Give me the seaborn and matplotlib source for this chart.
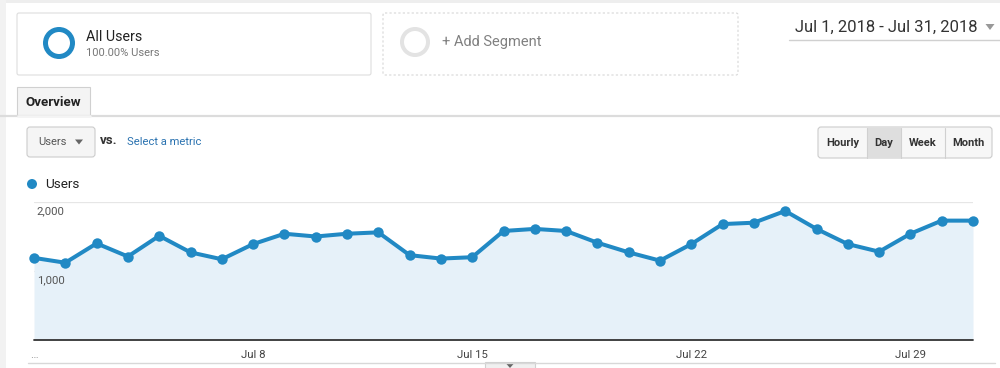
import matplotlib
matplotlib.use("Agg")
import matplotlib.pyplot as plt
import matplotlib.patches as mpatches
import matplotlib.transforms as mtransforms
import pandas as pd
import seaborn as sns

# data (daily users, July 2018)
days = list(range(1, 32))
users = [1190, 1120, 1400, 1210, 1510, 1270, 1170, 1390, 1540, 1500,
         1540, 1560, 1230, 1180, 1200, 1580, 1610, 1580, 1410, 1270,
         1150, 1390, 1680, 1700, 1870, 1610, 1390, 1280, 1540, 1730, 1730]
tick_days = [1, 8, 15, 22, 29]
tick_labels = ["\u2026", "Jul 8", "Jul 15", "Jul 22", "Jul 29"]
y_ticks = [1000, 2000]
y_labels = ["1,000", "2,000"]
intervals = ["Hourly", "Day", "Week", "Month"]
date_range = "Jul 1, 2018 - Jul 31, 2018"

LINE = "#2189c4"
FILL = "#e6f1f9"

sns.set_theme(style="white")
plt.rcParams["font.family"] = ["Roboto", "DejaVu Sans"]

W, H = 1000, 368
fig = plt.figure(figsize=(W / 100, H / 100), dpi=100)

# overlay in pixel coordinates for the UI chrome
ui = fig.add_axes([0, 0, 1, 1], zorder=0)
ui.set_xlim(0, W)
ui.set_ylim(H, 0)
ui.axis("off")


def box(x0, y0, x1, y1, fc="white", ec="#dddddd", ls="-", lw=0.8, r=2):
    p = mpatches.FancyBboxPatch((x0, y0), x1 - x0, y1 - y0,
                                boxstyle=f"round,pad=0,rounding_size={r}",
                                fc=fc, ec=ec, ls=ls, lw=lw)
    ui.add_patch(p)


def tri(x, y, w=8, h=5, color="#777777"):
    ui.add_patch(mpatches.Polygon([(x - w / 2, y - h / 2), (x + w / 2, y - h / 2), (x, y + h / 2)],
                                  closed=True, fc=color, ec="none"))


# page frame strips
ui.add_patch(mpatches.Rectangle((0, 0), W, 3, fc="#eeeeee", ec="none"))
ui.add_patch(mpatches.Rectangle((0, 0), 6, H, fc="#f2f2f2", ec="none"))

# segment boxes
box(17, 13, 371, 75)
ui.add_patch(mpatches.Wedge((59, 43), 16, 0, 360, width=5, fc=LINE, ec="none"))
ui.text(86, 37, "All Users", fontsize=10.3, color="#222222", va="center", ha="left")
ui.text(86, 53, "100.00% Users", fontsize=8, color="#777777", va="center", ha="left")

box(383, 13, 738, 75, ec="#d6d6d6", ls=(0, (2, 2)))
ui.add_patch(mpatches.Wedge((415, 42), 15, 0, 360, width=4, fc="#e3e3e3", ec="none"))
ui.text(442, 42, "+ Add Segment", fontsize=10.5, color="#808080", va="center", ha="left")

# date range picker
ui.text(795, 27, date_range, fontsize=12, color="#333333", va="center", ha="left")
tri(990, 27, w=9, h=6, color="#999999")
ui.plot([789, 1000], [39.5, 39.5], color="#d0d0d0", lw=1)

# tab bar
ui.plot([0, W], [116, 116], color="#dcdcdc", lw=1.6)
ui.add_patch(mpatches.Rectangle((17, 87), 73, 29, fc="#f4f4f4", ec="#d0d0d0", lw=0.8))
ui.plot([17.5, 89.5], [116, 116], color="#f4f4f4", lw=1.8)
ui.text(53.5, 102, "Overview", fontsize=9.6, color="#222222", fontweight="bold", va="center", ha="center")

# metric selector
box(27, 127, 95, 157, fc="#f5f5f5", ec="#cccccc", r=3)
ui.text(38, 142, "Users", fontsize=8, color="#555555", va="center", ha="left")
tri(79, 142, w=8, h=5, color="#666666")
ui.text(99.5, 141, "vs.", fontsize=9.5, color="#333333", fontweight="bold", va="center", ha="left")
ui.text(127, 142, "Select a metric", fontsize=8.1, color="#2a72b0", va="center", ha="left")

# interval buttons
edges = [818, 867, 901, 945, 992]
box(edges[0], 127, edges[-1], 158, fc="#f7f7f7", ec="#cccccc", r=3)
for i, name in enumerate(intervals):
    x0, x1 = edges[i], edges[i + 1]
    if name == "Day":
        ui.add_patch(mpatches.Rectangle((x0, 127.5), x1 - x0, 30, fc="#dedede", ec="none"))
    if i > 0:
        ui.plot([x0, x0], [127.5, 157.5], color="#d0d0d0", lw=0.8)
    ui.text((x0 + x1) / 2, 142.5, name, fontsize=8, color="#333333", fontweight="bold",
            va="center", ha="center")

# legend
ui.add_patch(mpatches.Circle((32, 184), 5, fc=LINE, ec="none"))
ui.text(45, 184, "Users", fontsize=9.7, color="#222222", va="center", ha="left")

# bottom strip with the collapse tab
ui.plot([28, 995], [363, 363], color="#d8d8d8", lw=1)
ui.add_patch(mpatches.Rectangle((485, 362), 50, 8, fc="#f0f0f0", ec="#d0d0d0", lw=0.8))
tri(510, 366, w=7, h=4, color="#666666")

# chart
df = pd.DataFrame({"day": days, "users": users})
ax = fig.add_axes([34 / W, 1 - 340 / H, 939 / W, 138 / H], zorder=1)
ax.patch.set_alpha(0)
ax.fill_between(df["day"], 0, df["users"], color=FILL, lw=0, zorder=1)
for yv in y_ticks:
    ax.axhline(yv, color="#e6e6e6", lw=0.9, zorder=0)
sns.lineplot(data=df, x="day", y="users", ax=ax, color=LINE, lw=2.9,
             marker="o", markersize=7.5, markeredgewidth=0, clip_on=False, zorder=3)
ax.axhline(0, color="#333333", lw=1.3, zorder=4, clip_on=False)
ax.set_xlim(1, 31)
ax.set_ylim(0, 2000)
for s in ax.spines.values():
    s.set_visible(False)
ax.set_xlabel("")
ax.set_ylabel("")
ax.set_yticks([])
ax.set_xticks(tick_days)
ax.set_xticklabels(tick_labels, fontsize=8.2, color="#444444")
ax.get_xticklabels()[0].set_color("#888888")
ax.tick_params(axis="x", length=0, pad=7)

trans = mtransforms.blended_transform_factory(ax.transAxes, ax.transData)
for yv, lab in zip(y_ticks, y_labels):
    ax.text(0.003, yv - 55, lab, transform=trans, fontsize=8.2, color="#555555",
            va="top", ha="left", zorder=5)

fig.savefig("out.png", dpi=100)
